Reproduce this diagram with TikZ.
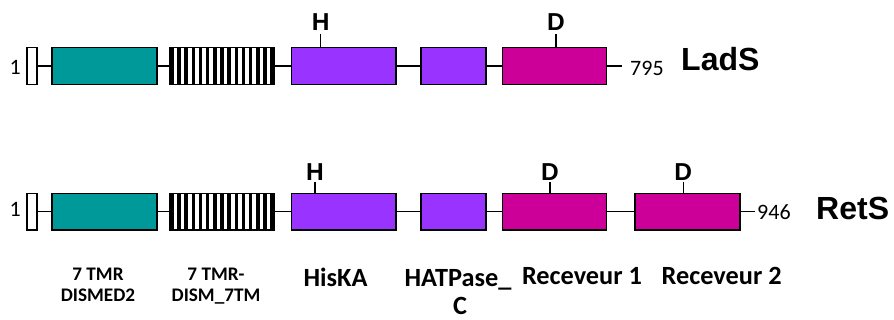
\documentclass[tikz,border=0pt]{standalone}
\usepackage{fontspec}
\setmainfont{Carlito}
\newfontfamily\arialfont{Liberation Sans}
\definecolor{tealdom}{HTML}{009999}
\definecolor{kindom}{HTML}{9933FF}
\definecolor{recdom}{HTML}{CC0099}
\tikzset{
  dom/.style={draw=black, line width=1.4pt, rectangle, inner sep=0pt, minimum height=36.7pt},
  tmbox/.style={dom, fill=white, minimum width=10pt},
  stripebox/.style={dom, fill=white, minimum width=104pt,
    path picture={\foreach \i in {0,...,14}
      \fill[black] ([xshift=\i*7.17pt]path picture bounding box.south west) rectangle ++(3.6pt,36.7pt);}},
  conn/.style={line width=1.4pt, black},
  tick/.style={line width=1.4pt, black},
  site/.style={font=\arialfont\bfseries\fontsize{24.5}{28}\selectfont, inner sep=0pt},
  protname/.style={font=\arialfont\bfseries\fontsize{32}{36}\selectfont, inner sep=0pt, anchor=base west},
  num/.style={font=\fontsize{22}{26}\selectfont, inner sep=0pt, anchor=base west},
  lab/.style={font=\bfseries\fontsize{19.2}{22}\selectfont, inner sep=0pt, anchor=base},
  biglab/.style={font=\bfseries\fontsize{26.3}{30}\selectfont, inner sep=0pt, anchor=base}
}
\begin{document}
\begin{tikzpicture}[x=1pt,y=-1pt]
\useasboundingbox (0,0) rectangle (894,320);
% ---- LadS ----
\node[tmbox] (s1) at (32,66) {};
\node[dom, fill=tealdom, minimum width=105pt] (a1) at (104.5,66) {};
\node[stripebox] (b1) at (222,66) {};
\node[dom, fill=kindom, minimum width=104.3pt] (c1) at (343.85,66) {};
\node[dom, fill=kindom, minimum width=65pt] (d1) at (453.5,66) {};
\node[dom, fill=recdom, minimum width=104pt] (e1) at (554.7,66) {};
\coordinate (end1) at (621.7,66);
\draw[conn] (s1) -- (a1) -- (b1) -- (c1) -- (d1) -- (e1) -- (end1);
\node[num, anchor=base east] (one1) at (21,75) {1};
\node[num] (n1) at (630,76) {795};
\node[protname] (lads) at (681,71) {LadS};
\node[site] (h1) at (320.7,22) {H};
\draw[tick] (c1.north -| h1) -- ++(0,-13);
\node[site] (d1l) at (556,22) {D};
\draw[tick] (e1.north -| d1l) -- ++(0,-13);
% ---- RetS ----
\node[tmbox] (s2) at (32,211.7) {};
\node[dom, fill=tealdom, minimum width=105pt] (a2) at (104.5,211.7) {};
\node[stripebox] (b2) at (222,211.7) {};
\node[dom, fill=kindom, minimum width=104.3pt] (c2) at (343.85,211.7) {};
\node[dom, fill=kindom, minimum width=65pt] (d2) at (453.5,211.7) {};
\node[dom, fill=recdom, minimum width=104pt] (e2) at (554.7,211.7) {};
\node[dom, fill=recdom, minimum width=105pt] (f2) at (687.5,211.7) {};
\coordinate (end2) at (755,211.7);
\draw[conn] (s2) -- (a2) -- (b2) -- (c2) -- (d2) -- (e2) -- (f2) -- (end2);
\node[num, anchor=base east] (one2) at (21,217) {1};
\node[num] (n2) at (757,219.3) {946};
\node[protname] (rets) at (816,219.3) {RetS};
\node[site] (h2) at (315,171.7) {H};
\draw[tick] (c2.north -| h2) -- ++(0,-11);
\node[site] (d2l) at (550,171.7) {D};
\draw[tick] (e2.north -| d2l) -- ++(0,-11);
\node[site] (d3l) at (683.3,171.7) {D};
\draw[tick] (f2.north -| d3l) -- ++(0,-11);
% ---- labels ----
\node[lab] (la1) at (98,280.7) {7 TMR};
\node[lab] (la2) at (98,301.7) {DISMED2};
\node[lab] (lb1) at (216,280.7) {7 TMR-};
\node[lab] (lb2) at (216,301.7) {DISM\_7TM};
\node[biglab] (lc) at (335.5,286.7) {HisKA};
\node[biglab] (ld1) at (458,287) {HATPase\_};
\node[biglab] (ld2) at (460,314) {C};
\node[biglab] (le) at (582,285) {Receveur 1};
\node[biglab] (lf) at (721.7,285) {Receveur 2};
\end{tikzpicture}
\end{document}
